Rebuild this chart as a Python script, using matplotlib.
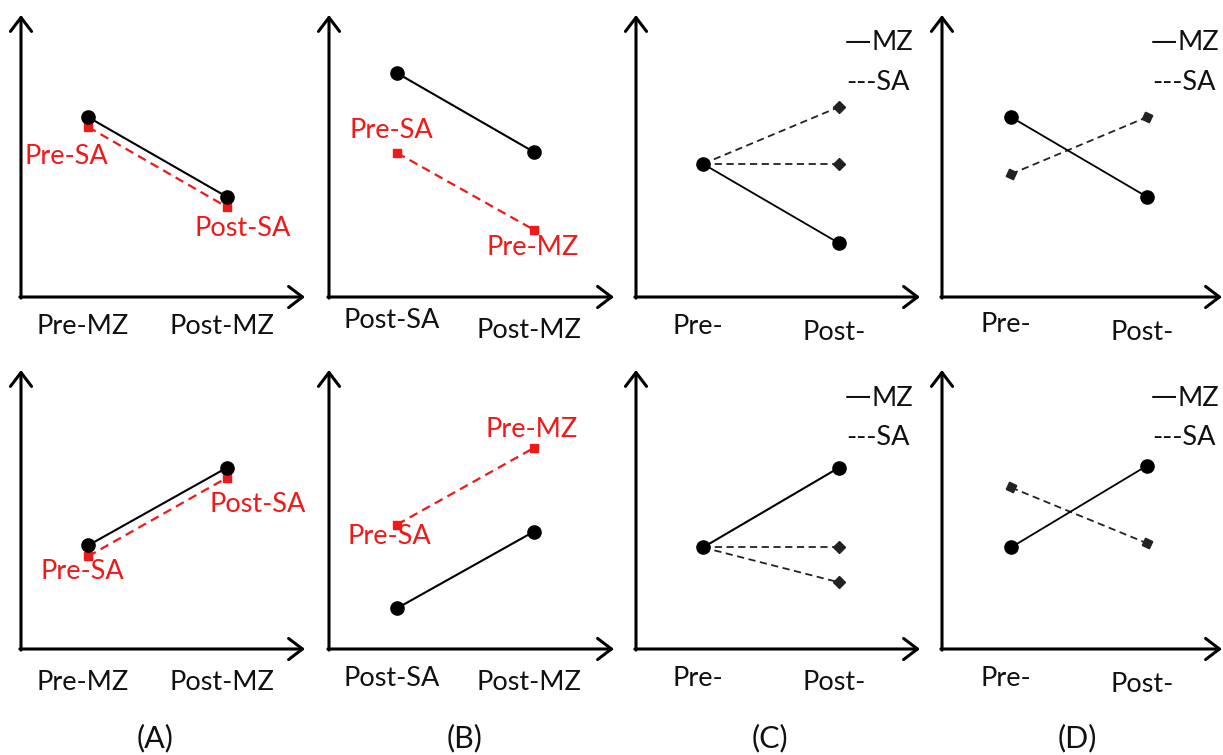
import matplotlib
matplotlib.use("Agg")
import matplotlib.pyplot as plt

# schematic values on an arbitrary 0-10 scale
a_top_mz = [6.38, 3.55]
a_top_sa = [6.03, 3.19]
b_top_mz = [7.94, 5.14]
b_top_sa = [5.11, 2.38]
c_top_mz = [4.72, 1.91]
c_top_sa_up = [4.72, 6.74]
c_top_sa_flat = [4.72, 4.72]
d_top_mz = [6.38, 3.55]
d_top_sa = [4.36, 6.38]

a_bot_mz = [3.71, 6.50]
a_bot_sa = [3.32, 6.14]
b_bot_mz = [1.46, 4.21]
b_bot_sa = [4.46, 7.21]
c_bot_mz = [3.64, 6.50]
c_bot_sa_flat = [3.64, 3.64]
c_bot_sa_down = [3.64, 2.39]
d_bot_mz = [3.64, 6.57]
d_bot_sa = [5.79, 3.79]

labels_a = ["Pre-MZ", "Post-MZ"]
labels_b = ["Post-SA", "Post-MZ"]
labels_cd = ["Pre-", "Post-"]
panel_names = ["(A)", "(B)", "(C)", "(D)"]

W, H = 1223, 755
FONT = "Lato"
RED = "#f01818"
INK = "#111111"

fig = plt.figure(figsize=(W / 100, H / 100), dpi=100)

# pixel layout: (y-axis x, arrow tip x, x of first point, x of second point)
cols = [(21, 305, 88, 227), (329, 614, 397, 534),
        (636, 920, 703, 839), (942, 1222, 1011, 1147)]
rows = [(297, 15), (649, 370)]  # (x-axis y, arrow tip y)


def make_ax(c, r):
    left, right, p0, p1 = cols[c]
    bot, top = rows[r]
    ax = fig.add_axes([left / W, 1 - bot / H, (right - left) / W, (bot - top) / H])
    ax.set_xlim((left - p0) / (p1 - p0), (right - p0) / (p1 - p0))
    ax.set_ylim(0, 10)
    ax.axis("off")
    arrow = dict(arrowstyle="->,head_length=0.5,head_width=0.38", lw=2.2,
                 color="black", shrinkA=0, shrinkB=0, mutation_scale=20)
    ax.annotate("", xy=(1, 0), xytext=(-0.004, 0), xycoords="axes fraction",
                arrowprops=arrow, annotation_clip=False)
    ax.annotate("", xy=(0, 1), xytext=(0, -0.004), xycoords="axes fraction",
                arrowprops=arrow, annotation_clip=False)
    return ax


def ticks(ax, labels, dy):
    for i, (lab, off) in enumerate(zip(labels, dy)):
        ax.annotate(lab, xy=(i, 0), xytext=(-5, off), textcoords="offset pixels",
                    ha="center", va="center", fontsize=19.5, family=FONT,
                    color=INK, annotation_clip=False)


def mz_line(ax, ys, lw=1.5):
    ax.plot([0, 1], ys, color="black", lw=lw, marker="o", ms=9.5, zorder=4,
            clip_on=False)


def sa_red(ax, ys):
    ax.plot([0, 1], ys, color=RED, lw=1.6, ls=(0, (4, 2.5)), marker="s", ms=6,
            zorder=3, clip_on=False)


def sa_black(ax, ys, marker="D", ms=6.5):
    ax.plot([0, 1], ys, color="#222222", lw=1.3, ls=(0, (4, 2.5)), marker=marker,
            ms=ms, zorder=3, clip_on=False)


def red_label(ax, text, x, y, dx, dy):
    ax.annotate(text, xy=(x, y), xytext=(dx, dy), textcoords="offset pixels",
                ha="center", va="center", fontsize=19.5, family=FONT, color=RED,
                annotation_clip=False)


def legend(ax):
    x0 = cols[2][1] - cols[2][0] - 74
    kw = dict(xy=(0, 1), xycoords="axes fraction", textcoords="offset pixels",
              va="center", ha="left", color=INK, annotation_clip=False)
    ax.annotate("\u2014", xytext=(x0 - 1, -27), family="DejaVu Sans", fontsize=19, **kw)
    ax.annotate("MZ", xytext=(x0 + 26, -28), family=FONT, fontsize=19.5, **kw)
    ax.annotate("---SA", xytext=(x0, -67), family=FONT, fontsize=19.5, **kw)


# top row
ax = make_ax(0, 0)
sa_red(ax, a_top_sa)
mz_line(ax, a_top_mz)
ticks(ax, labels_a, [-30, -30])
red_label(ax, "Pre-SA", 0, a_top_sa[0], -22, -30)
red_label(ax, "Post-SA", 1, a_top_sa[1], 16, -21)

ax = make_ax(1, 0)
sa_red(ax, b_top_sa)
mz_line(ax, b_top_mz)
ticks(ax, labels_b, [-24, -33])
red_label(ax, "Pre-SA", 0, b_top_sa[0], -6, 22)
red_label(ax, "Pre-MZ", 1, b_top_sa[1], -1, -18)

ax = make_ax(2, 0)
sa_black(ax, c_top_sa_up)
sa_black(ax, c_top_sa_flat)
mz_line(ax, c_top_mz, lw=1.3)
ticks(ax, labels_cd, [-30, -35])
legend(ax)

ax = make_ax(3, 0)
sa_black(ax, d_top_sa, marker=(4, 0, 20), ms=8)
mz_line(ax, d_top_mz, lw=1.3)
ticks(ax, labels_cd, [-28, -35])
legend(ax)

# bottom row
ax = make_ax(0, 1)
sa_red(ax, a_bot_sa)
mz_line(ax, a_bot_mz)
ticks(ax, labels_a, [-34, -34])
red_label(ax, "Pre-SA", 0, a_bot_sa[0], -6, -15)
red_label(ax, "Post-SA", 1, a_bot_sa[1], 31, -27)

ax = make_ax(1, 1)
sa_red(ax, b_bot_sa)
mz_line(ax, b_bot_mz)
ticks(ax, labels_b, [-29, -33])
red_label(ax, "Pre-MZ", 1, b_bot_sa[1], -2, 18)
red_label(ax, "Pre-SA", 0, b_bot_sa[0], -8, -12)

ax = make_ax(2, 1)
sa_black(ax, c_bot_sa_flat)
sa_black(ax, c_bot_sa_down)
mz_line(ax, c_bot_mz)
ticks(ax, labels_cd, [-29, -34])
legend(ax)

ax = make_ax(3, 1)
sa_black(ax, d_bot_sa, marker=(4, 0, 20), ms=8)
mz_line(ax, d_bot_mz, lw=1.3)
ticks(ax, labels_cd, [-29, -36])
legend(ax)

for name, xc in zip(panel_names, [155, 465, 770, 1077]):
    fig.text(xc / W, 1 - 738 / H, name, ha="center", va="center",
             fontsize=22, family=FONT, color=INK)

fig.savefig("out.png", dpi=100, facecolor="white")
plt.close(fig)
